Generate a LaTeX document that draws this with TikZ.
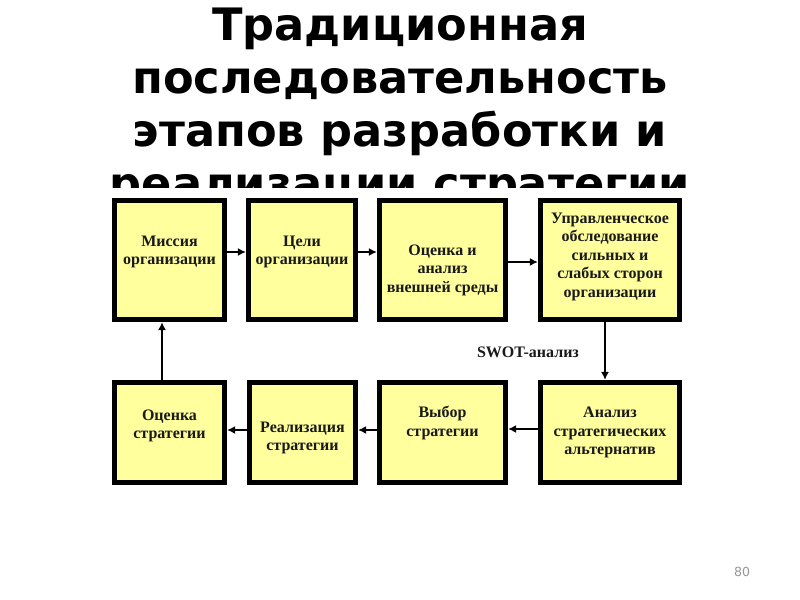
\documentclass[tikz,border=0pt]{standalone}
\usepackage{fontspec}
\setmainfont{Liberation Serif}
\newfontfamily\titlefont{DejaVu Sans}
\usetikzlibrary{arrows.meta}
\definecolor{stagefill}{RGB}{255,255,158}
\definecolor{pagegray}{RGB}{150,150,150}

\begin{document}
\begin{tikzpicture}[x=0.75bp,y=-0.75bp,
		titleline/.style={font=\titlefont\bfseries\fontsize{33.5bp}{39.75bp}\selectfont,
			inner sep=0pt,anchor=base},
		stage/.style={draw=black,line width=3.9bp,fill=stagefill,inner sep=0pt},
		stagetext/.style={font=\bfseries\fontsize{12bp}{13.9bp}\selectfont,
			align=center,inner sep=0pt,text=black!90},
		flow/.style={draw=black,line width=1.5bp,-{Latex[length=6bp,width=6bp]}}]
	\useasboundingbox (0,0) rectangle (800,600);

	%%%%%%%%%%%%%%%%  title, partly hidden by the scheme  %%%%%%%%%%%%%%%%
	\begin{scope}
		\clip (0,0) rectangle (800,187);
		\foreach \ln/\txt [count=\k] in {40/Традиционная,93/последовательность,
				146/этапов разработки и,199/реализации стратегии}
			\node[titleline] (title\k) at (400,\ln) {\txt};
	\end{scope}

	%%%%%%%%%%%%%%%%  upper row  %%%%%%%%%%%%%%%%
	\node[stage,minimum width=82.5bp,minimum height=89.25bp,
		label={[stagetext,yshift=6bp]center:Миссия\\организации}] (mission) at (169.5,260) {};
	\node[stage,minimum width=80.25bp,minimum height=89.25bp,
		label={[stagetext,yshift=6bp]center:Цели\\организации}] (goals) at (302,260) {};
	\node[stage,minimum width=94.5bp,minimum height=89.25bp,
		label={[stagetext,yshift=-7.5bp]center:Оценка и\\анализ\\внешней среды}] (environ) at (442.5,260) {};
	\node[stage,minimum width=104.25bp,minimum height=89.25bp,
		label={[stagetext,yshift=2.5bp]center:Управленческое\\обследование\\сильных и\\слабых сторон\\организации}] (survey) at (610,260) {};

	%%%%%%%%%%%%%%%%  lower row  %%%%%%%%%%%%%%%%
	\node[stage,minimum width=82.5bp,minimum height=75bp,
		label={[stagetext,yshift=5bp]center:Оценка\\стратегии}] (assess) at (169.5,432.5) {};
	\node[stage,minimum width=79.5bp,minimum height=75bp,
		label={[stagetext,yshift=-4bp]center:Реализация\\стратегии}] (realize) at (302.5,432.5) {};
	\node[stage,minimum width=94.5bp,minimum height=75bp,
		label={[stagetext,yshift=7bp]center:Выбор\\стратегии}] (choice) at (442.5,432.5) {};
	\node[stage,minimum width=104.25bp,minimum height=75bp,
		label={[stagetext]center:Анализ\\стратегических\\альтернатив}] (altern) at (610,432.5) {};

	\node[stagetext] (swot) at (528,352) {SWOT-анализ};

	% connectors
	\draw[flow] (mission.east |- 0,252) -- (goals.west |- 0,252);
	\draw[flow] (goals.east |- 0,252) -- (environ.west |- 0,252);
	\draw[flow] (environ.east |- 0,262) -- (survey.west |- 0,262);
	\draw[flow] (survey.south -| 605,0) -- (altern.north -| 605,0);
	\draw[flow] (altern.west |- 0,429) -- (choice.east |- 0,429);
	\draw[flow] (choice.west |- 0,430) -- (realize.east |- 0,430);
	\draw[flow] (realize.west |- 0,430) -- (assess.east |- 0,430);
	\draw[flow] (assess.north -| 162,0) -- (mission.south -| 162,0);

	\node[font=\titlefont\fontsize{9.4bp}{10bp}\selectfont,text=pagegray] (pagenum) at (742,572) {80};
\end{tikzpicture}
\end{document}
